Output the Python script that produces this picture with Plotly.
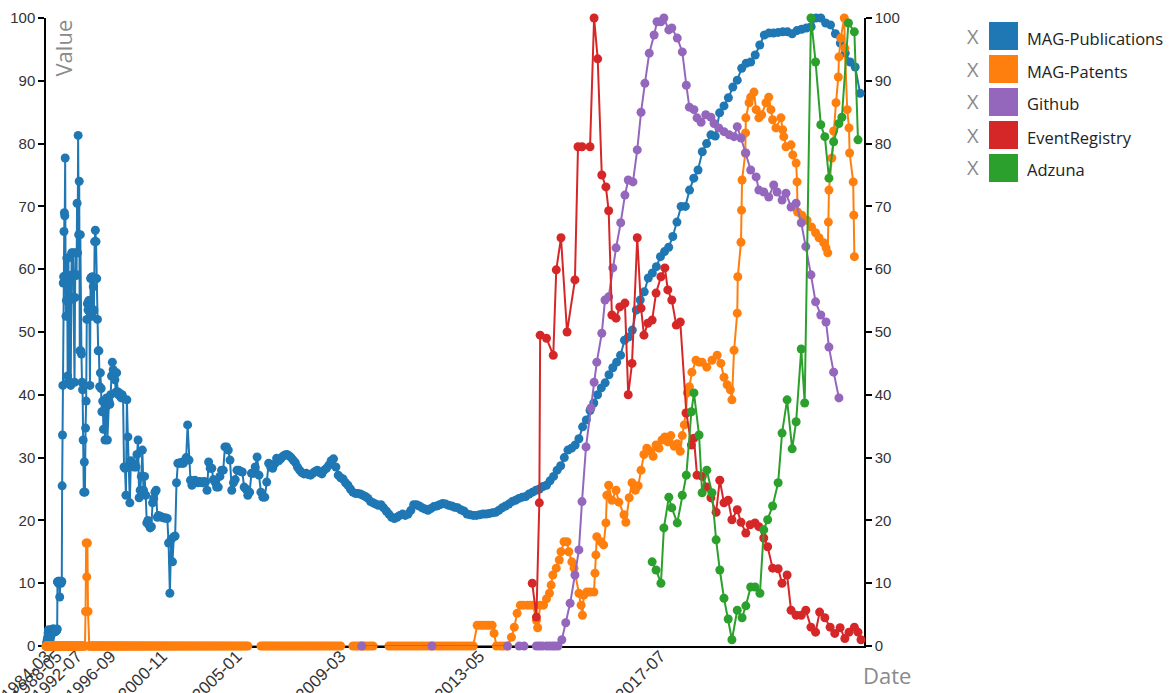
import numpy as np
import pandas as pd
import plotly.graph_objects as go

# ---------------- data ----------------
series_names = ["MAG-Publications", "MAG-Patents", "Github", "EventRegistry", "Adzuna"]
series_colors = ["#1f77b4", "#ff7f0e", "#9467bd", "#d62728", "#2ca02c"]

tick_labels = ["1984-03", "1988-05", "1992-07", "1996-09", "2000-11",
               "2005-01", "2009-03", "2013-05", "2017-07"]

# MAG-Publications: monthly values starting 1984-03
pub_start = "1984-03"
pub_values = [
    0, 0, 0, 0.3, 0.3, 0.5, 0.5, 0.8, 1, 1,                                   # 1984
    1, 1.2, 1.5, 2, 2.2, 2.5, 2.6, 2.4, 2, 1.5, 1.8, 2,                         # 1985
    1.2, 1, 1.5, 2, 1.5, 1.8, 2.2, 2.5, 2.3, 2, 2.5, 2.6,                       # 1986
    2.5, 2.7, 2.2, 2.4, 2.6, 2.7, 2.5, 2.2, 2.4, 2.6, 2.5, 2.3,                 # 1987
    2.5, 2.6, 2.4, 2.5, 2.6, 2.7, 10.2, 10.2, 10.3, 10, 10.2, 10.3,             # 1988
    10.2, 7.8, 10.2, 10.3, 10.2, 10, 10.2, 10.3, 25.5, 33.6, 41.5, 57.8,        # 1989
    58.8, 66, 69, 68.5, 77.7, 59, 52.5, 55, 61.8, 58.8, 43, 42,                 # 1990
    61.8, 42, 55, 58.8, 59, 41.5, 58.5, 62.6, 59, 59.1, 62.6, 55.5,             # 1991
    59.1, 42, 55.5, 62.6, 59, 59.1, 70.5, 62.6, 81.3, 65.5, 74, 47,             # 1992
    65.5, 47, 46.5, 42, 40.8, 32.8, 24.5, 29.3, 24.5, 34.7, 39, 52,             # 1993
    54.5, 53.5, 55, 54, 41.5, 58.5, 58.7, 52.5, 58.8, 57.2, 53.5, 64.4,         # 1994
    66.2, 64.4, 58.5, 52, 47, 47, 41.3, 43.5, 41, 37.3, 39, 34.5,               # 1995
    37.5, 32.8, 38, 39.5, 32.8, 38.5, 39, 38.5, 40, 43, 45.2, 44,               # 1996
    43.6, 42.4, 40.4, 43.5, 40.5, 40, 40.3, 39.8, 39.5, 40, 39.5, 28.5,         # 1997
    28.3, 24, 39.2, 33.3, 28.5, 22.8, 29.5, 29.1, 28.8, 28.5, 29, 28.5,         # 1998
    30.5, 32.8, 23.6, 24.8, 27, 31.2, 24.8, 27, 24, 19.6, 20, 19.2,             # 1999
    18.8, 19, 22.8, 23.5, 24.5, 24.8, 20.5, 20.8, 20.6, 20.6, 20.5, 20.4,       # 2000
    20.4, 20.4, 20.3, 16.4, 8.4, 17, 13.4, 17.4, 17.5, 26, 29.1, 29.1,          # 2001
    29.2, 29.1, 29.1, 29.5, 30, 35.2, 29.6, 26.4, 25.6, 26.2, 26.4, 26.1,       # 2002
    26, 26.2, 26.1, 26, 26.2, 26.1, 24.8, 29.3, 28.3, 28.3, 26.5, 26.1,         # 2003
    25.3, 25.3, 27, 28, 28, 31.7, 31.7, 31.2, 29.6, 24.8, 26, 26.5,             # 2004
    28, 28, 27.8, 27.7, 25.3, 25, 24, 24.5, 27.5, 27.5, 28.5, 30.1,             # 2005
    27.2, 24.5, 23.7, 23.7, 26.1, 29.1, 28.5, 28.3, 29, 29.9, 29.5, 29.8,       # 2006
    30.2, 30.4, 30.5, 30.3, 30, 29.6, 29.2, 28.5, 28, 27.6, 27.4, 27.5,         # 2007
    27.3, 27.2, 27.5, 27.8, 28, 27.6, 27.4, 28, 28.3, 28.8, 29.5, 29.8,         # 2008
    28.5, 27.2, 26.8, 26.6, 26, 25.6, 25, 24.5, 24.3, 24.3, 24.2, 24,           # 2009
    23.8, 23.5, 23, 22.8, 22.6, 22.4, 22.5, 22, 21.5, 21, 20.5, 20.3,           # 2010
    20.5, 20.8, 21, 20.8, 21, 21.6, 22.5, 22.5, 22.3, 22, 21.8, 21.6,           # 2011
    21.9, 22.2, 22.3, 22.5, 22.7, 22.6, 22.4, 22.3, 22.1, 22, 21.7, 21.5,       # 2012
    21, 20.9, 20.8, 20.8, 20.9, 21, 21, 21.1, 21.2, 21.3, 21.6, 22,             # 2013
    22.3, 22.6, 23, 23.2, 23.5, 23.7, 23.8, 24.2, 24.5, 24.8, 25, 25.4,         # 2014
    25.6, 26.3, 27, 28, 28.7, 30, 31.2, 31.5, 32, 33, 34.9, 36,                 # 2015
    37.5, 38.7, 40, 41.1, 41.9, 43.2, 44.3, 45.2, 46.3, 48.7, 49.2, 50.3,       # 2016
    53.5, 55.1, 56.4, 58.6, 59.4, 60.4, 62, 62.8, 63.5, 65.2, 67.5, 70,         # 2017
    70, 72.6, 74.5, 75.8, 78.7, 80, 81.4, 81.2, 84.9, 86, 87.3, 89,             # 2018
    90.1, 92, 92.8, 93, 94.1, 95.7, 97.3, 97.6, 97.6, 97.7, 97.8, 97.8,         # 2019
    97.5, 98, 98.2, 98.4, 98.6, 100, 100, 99.2, 98.9, 97.5, 96, 94.4,           # 2020
    93, 92.2, 88,                                                               # 2021
]

# MAG-Patents: monthly values 1984-03 .. 2013-03 (None = missing month)
pat_start = "1984-03"
pat_monthly = [
    0, 0, 0, 0, 0, 0, 0, 0, 0, 0,                   # 1984
    0, 0, 0, 0, 0, 0, 0, 0, 0, 0, 0, 0,             # 1985
    0, 0, 0, 0, 0, 0, 0, 0, 0, 0, 0, 0,             # 1986
    0, 0, 0, 0, 0, 0, 0, 0, 0, 0, 0, 0,             # 1987
    0, 0, 0, 0, 0, 0, 0, 0, 0, 0, 0, 0,             # 1988
    0, 0, 0, 0, 0, 0, 0, 0, 0, 0, 0, 0,             # 1989
    0, 0, 0, 0, 0, 0, 0, 0, 0, 0, 0, 0,             # 1990
    0, 0, 0, 0, 0, 0, 0, 0, 0, 0, 0, 0,             # 1991
    0, 0, 0, 0, 0, 0, 0, 0, 0, 0, 0, 0,             # 1992
    0, 0, 0, 0, 0, 0, 0, 0, 0, 5.5, 16.4, 11,       # 1993
    16.4, 5.5, 0, 0, 0, 0, 0, 0, 0, 0, 0, 0,        # 1994
    0, 0, 0, 0, 0, 0, 0, 0, 0, 0, 0, 0,             # 1995
    0, 0, 0, 0, 0, 0, 0, 0, 0, 0, 0, 0,             # 1996
    0, 0, 0, 0, 0, 0, 0, 0, 0, 0, 0, 0,             # 1997
    0, 0, 0, 0, 0, 0, 0, 0, 0, 0, 0, 0,             # 1998
    0, 0, 0, 0, 0, 0, 0, 0, 0, 0, 0, 0,             # 1999
    0, 0, 0, 0, 0, 0, 0, 0, 0, 0, 0, 0,             # 2000
    0, 0, 0, 0, 0, 0, 0, 0, 0, 0, 0, 0,             # 2001
    0, 0, 0, 0, 0, 0, 0, 0, 0, 0, 0, 0,             # 2002
    0, 0, 0, 0, 0, 0, 0, 0, 0, 0, 0, 0,             # 2003
    0, 0, 0, 0, 0, 0, 0, 0, 0, 0, 0, 0,             # 2004
    0, 0, 0, 0, 0, 0, 0, None, None, None, None, None,   # 2005
    None, 0, 0, 0, 0, 0, 0, 0, 0, 0, 0, 0,          # 2006
    0, 0, 0, 0, 0, 0, 0, 0, 0, 0, 0, 0,             # 2007
    0, 0, 0, 0, 0, 0, 0, 0, 0, 0, 0, 0,             # 2008
    0, 0, 0, None, None, None, None, 0, 0, 0, 0, 0, # 2009
    0, 0, 0, 0, None, None, None, None, None, 0, 0, 0,   # 2010
    0, 0, 0, 0, 0, 0, 0, 0, 0, 0, 0, 0,             # 2011
    0, 0, 0, 0, 0, 0, 0, 0, 0, 0, 0, 0,             # 2012
    0, 0, 0,                                        # 2013
]
# MAG-Patents from 2013 on (irregular dates, decimal years)
pat_t = [
    2013.27, 2013.35, 2013.43, 2013.505, 2013.58, 2013.66, 2013.71, 2013.77, 2013.87, 2013.95,
    2014.05, 2014.15, 2014.22, 2014.29, 2014.37, 2014.44, 2014.54, 2014.61, 2014.68, 2014.76,
    2014.79, 2014.85, 2014.93,
    2015.0, 2015.07, 2015.11, 2015.15, 2015.23, 2015.3, 2015.34, 2015.41, 2015.48, 2015.52,
    2015.59, 2015.64, 2015.75, 2015.8, 2015.83, 2015.86, 2015.93,
    2016.0, 2016.087, 2016.11, 2016.13, 2016.15, 2016.24, 2016.3, 2016.35, 2016.37, 2016.41,
    2016.48, 2016.57, 2016.63, 2016.74, 2016.78, 2016.85, 2016.91, 2016.98,
    2017.04, 2017.1, 2017.16, 2017.22, 2017.29, 2017.35, 2017.41, 2017.47, 2017.53, 2017.59,
    2017.65, 2017.71, 2017.78, 2017.84, 2017.9, 2017.94, 2017.98,
    2018.01, 2018.04, 2018.08, 2018.13, 2018.21, 2018.27, 2018.33, 2018.42, 2018.52, 2018.62,
    2018.69, 2018.75, 2018.81, 2018.87, 2018.9, 2018.94,
    2019.0, 2019.01, 2019.07, 2019.08, 2019.09, 2019.15, 2019.155, 2019.16, 2019.22, 2019.25,
    2019.31, 2019.35, 2019.4, 2019.45, 2019.53, 2019.58, 2019.62, 2019.65, 2019.71, 2019.8,
    2019.83, 2019.85, 2019.89, 2019.98,
    2020.01, 2020.07, 2020.086, 2020.095, 2020.17, 2020.26, 2020.34, 2020.41, 2020.47, 2020.55,
    2020.59, 2020.62, 2020.63, 2020.64, 2020.69, 2020.72, 2020.76, 2020.8, 2020.81, 2020.84,
    2020.9, 2020.91, 2020.95, 2020.98, 2020.99,
    2021.05, 2021.06, 2021.07,
]
pat_v = [
    3.3, 3.3, 3.3, 3.3, 3.3, 3.3, 2.0, 0, 0, 0,
    0, 1.4, 3, 5.2, 6.5, 6.5, 6.5, 6.5, 6.5, 4.1,
    2.9, 6.5, 6.5,
    7.5, 8.4, 9.7, 11.3, 12.4, 13.7, 15, 16.6, 16.6, 15,
    13.4, 12.4, 8.4, 6.5, 4.9, 8.1, 8.6,
    8.6, 8.6, 11.6, 14.5, 17.4, 16.6, 16.1, 19.6, 24, 25.6,
    23.2, 24.8, 22.9, 20.9, 19.7, 23.6, 26, 24.8,
    25.5, 28, 30.5, 31.5, 31, 30.2, 32, 31.5, 32.8, 33.3,
    32.5, 33.5, 31.8, 32.2, 31, 33.5, 35.2,
    37.1, 40.3, 41.3, 43.6, 45.5, 45.2, 45.2, 44.4, 45.5, 46.3,
    45, 42.8, 41.6, 40.8, 39.2, 47.1,
    53, 58.8, 64.3, 69.4, 74.2, 78.5, 81.7, 84.1, 86.5, 87.4,
    88.2, 85.4, 84.1, 84.6, 86.5, 87.4, 85.4, 83.8, 82.5, 84.1,
    82.2, 81.1, 79.5, 79.8,
    78.2, 76.9, 73.9, 69.1, 68.6, 67.8, 66.7, 65.8, 65, 64.2,
    63.4, 62.6, 67.5, 72.6, 77.7, 82, 86.5, 90.6, 93.8, 96.8,
    100, 95.2, 85.4, 82.5, 78.5,
    73.9, 68.6, 62,
]

# Github (decimal years)
gh_t = [
    2009.88, 2012.03, 2014.05, 2014.34, 2014.46, 2014.76, 2014.83, 2014.9, 2015.0, 2015.07,
    2015.14, 2015.2, 2015.27, 2015.36, 2015.45, 2015.55, 2015.66, 2015.75, 2015.82, 2015.91,
    2016.02, 2016.09, 2016.15, 2016.26, 2016.33, 2016.41, 2016.5, 2016.57, 2016.67, 2016.76,
    2016.83, 2016.93, 2017.02, 2017.1, 2017.18, 2017.27, 2017.37, 2017.43, 2017.51, 2017.57,
    2017.67, 2017.73, 2017.84, 2017.94, 2018.02, 2018.08, 2018.17, 2018.23, 2018.31, 2018.4,
    2018.5, 2018.56, 2018.65, 2018.75, 2018.85, 2018.94, 2019.0, 2019.07, 2019.16, 2019.25,
    2019.35, 2019.4, 2019.49, 2019.58, 2019.67, 2019.73, 2019.82, 2019.89, 2019.98, 2020.07,
    2020.16, 2020.24, 2020.33, 2020.41, 2020.5, 2020.59, 2020.64, 2020.72, 2020.81,
]
gh_v = [
    0, 0, 0, 0, 0, 0, 0, 0, 0, 0,
    0, 0, 0, 1, 3.7, 6.8, 11.3, 15.3, 23, 31.7,
    37.9, 42, 45.2, 49.8, 55.1, 55.6, 60.2, 63.4, 67.4, 71.8,
    74.2, 73.9, 79, 85, 89.6, 94.4, 97.3, 99.4, 99.4, 100,
    98.1, 98.4, 96.8, 94.6, 89.3, 85.8, 85.4, 84.1, 83.4, 84.6,
    84.2, 83.2, 82.5, 81.9, 81.4, 81.1, 82.7, 80.9, 78.5, 75.8,
    74.7, 72.6, 72.3, 71.5, 73.4, 72.3, 71, 72.1, 69.9, 70.5,
    67.4, 63.6, 59.1, 54.8, 52.7, 51.6, 47.6, 43.6, 39.5,
]

# EventRegistry (decimal years)
er_t = [
    2014.66, 2014.76, 2014.83, 2014.85, 2015.0, 2015.16, 2015.23, 2015.34, 2015.48, 2015.66,
    2015.73, 2015.82, 2016.0, 2016.09, 2016.17, 2016.26, 2016.35, 2016.41, 2016.48, 2016.57,
    2016.65, 2016.76, 2016.83, 2016.91, 2017.02, 2017.1, 2017.16, 2017.24, 2017.33, 2017.41,
    2017.51, 2017.59, 2017.65, 2017.73, 2017.82, 2017.9, 2018.02, 2018.12, 2018.17, 2018.23,
    2018.33, 2018.42, 2018.5, 2018.6, 2018.67, 2018.75, 2018.83, 2018.9, 2019.0, 2019.07,
    2019.16, 2019.24, 2019.33, 2019.4, 2019.49, 2019.56, 2019.65, 2019.75, 2019.82, 2019.91,
    2019.98, 2020.07, 2020.16, 2020.24, 2020.33, 2020.41, 2020.48, 2020.57, 2020.66, 2020.74,
    2020.83, 2020.91, 2020.98, 2021.07, 2021.13, 2021.18,
]
er_v = [
    10, 4.6, 22.8, 49.5, 49, 46.3, 59.9, 65, 50, 58.3,
    79.5, 79.5, 79.5, 100, 93.5, 75, 73.1, 69.3, 52.7, 52.2,
    54, 54.6, 40, 45, 65, 53.8, 49.5, 51.4, 51.9, 56.2,
    58.8, 60.2, 56.7, 55.1, 51.1, 51.6, 37.1, 32, 33.1, 27.2,
    27, 25.3, 23.6, 21.3, 26.4, 22.8, 23.2, 20.1, 21.7, 19.7,
    18, 19.3, 19.6, 19, 17.2, 15.8, 12.4, 12.3, 10, 11.3,
    5.7, 4.9, 4.9, 5.7, 3, 2.2, 5.4, 4.5, 3, 2,
    2.9, 1.2, 2.2, 3, 2.2, 1,
]

# Adzuna (decimal years)
adz_t = [
    2017.33, 2017.41, 2017.51, 2017.57, 2017.67, 2017.73, 2017.84, 2017.94, 2018.02, 2018.12,
    2018.17, 2018.27, 2018.33, 2018.42, 2018.52, 2018.6, 2018.67, 2018.75, 2018.83, 2018.9,
    2019.0, 2019.09, 2019.16, 2019.25, 2019.33, 2019.42, 2019.49, 2019.56, 2019.65, 2019.75,
    2019.82, 2019.91, 2020.0, 2020.07, 2020.16, 2020.22, 2020.33, 2020.41, 2020.5, 2020.57,
    2020.64, 2020.72, 2020.81, 2020.86, 2020.97, 2021.07, 2021.13,
]
adz_v = [
    13.4, 12.1, 10, 18.8, 23.7, 22, 19.6, 24, 27.2, 37.3,
    40.3, 33.6, 24.4, 28, 24.4, 16.9, 12.1, 7.6, 4.3, 1,
    5.7, 4.5, 6.4, 9.4, 9.4, 8.4, 18.5, 20.1, 22.3, 26,
    33.9, 39.2, 31.4, 35.7, 47.3, 38.7, 100, 93, 83, 81.1,
    74.5, 80.3, 83.2, 84.2, 99.2, 97.8, 80.6,
]

# ---------------- helpers ----------------
EXPONENT = 3.75  # power-scaled time axis (as in the original chart)


def monthly_years(start, n):
    d = pd.date_range(start + "-01", periods=n, freq="MS")
    return (d.year + (d.month - 1) / 12.0).to_numpy(dtype=float)


def label_year(s):
    return int(s[:4]) + (int(s[5:7]) - 1) / 12.0


def pos(years):
    return (np.asarray(years, dtype=float) - 1970.0) ** EXPONENT


pub_t = monthly_years(pub_start, len(pub_values))
pat_all_t = np.concatenate([monthly_years(pat_start, len(pat_monthly)), np.asarray(pat_t, float)])
pat_all_v = list(pat_monthly) + list(pat_v)

series_t = [pub_t, pat_all_t, np.asarray(gh_t), np.asarray(er_t), np.asarray(adz_t)]
series_v = [pub_values, pat_all_v, gh_v, er_v, adz_v]

first_t = min(float(np.min(t)) for t in series_t)
last_t = max(float(np.max(t)) for t in series_t)

fig = go.Figure()
for i, (name, color, t, v) in enumerate(zip(series_names, series_colors, series_t, series_v)):
    fig.add_trace(go.Scatter(
        x=pos(t), y=v, name=name, mode="lines+markers",
        line=dict(color=color, width=2),
        marker=dict(color=color, size=9),
        connectgaps=True, cliponaxis=False, showlegend=False,
        yaxis="y2" if i == len(series_names) - 1 else "y",
    ))

tick_font = dict(family="Liberation Sans, Arial, sans-serif", size=15, color="#333333")
yaxis_common = dict(
    range=[0, 100], tickvals=list(range(0, 101, 10)), showgrid=False, zeroline=False,
    showline=True, linecolor="black", linewidth=1.5, ticks="outside", ticklen=6,
    tickcolor="black", tickwidth=1.5, tickfont=tick_font, layer="below traces",
    automargin=False, fixedrange=True,
)

fig.update_layout(
    width=1172, height=693,
    margin=dict(l=46, r=308, t=18, b=47, pad=0),
    paper_bgcolor="white", plot_bgcolor="white",
    showlegend=False,
    xaxis=dict(
        range=[float(pos(first_t - 0.02)), float(pos(last_t + 0.05))],
        tickvals=[float(pos(label_year(s))) for s in tick_labels],
        ticktext=tick_labels, tickangle=-45, showgrid=False, zeroline=False,
        showline=True, linecolor="black", linewidth=1.5, ticks="",
        ticklabelstandoff=-8, ticklabeloverflow="allow",
        tickfont=dict(family="Liberation Sans, Arial, sans-serif", size=17, color="#333333"),
        layer="below traces", automargin=False,
    ),
    yaxis=yaxis_common,
    yaxis2=dict(overlaying="y", side="right", **yaxis_common),
)

# axis titles
W_PLOT, H_PLOT = 818.0, 628.0
gray = "#8a8a8a"
fig.add_annotation(text="Value", xref="paper", yref="paper", x=(62 - 46) / W_PLOT, y=1.0,
                   xanchor="center", yanchor="top", textangle=-90, showarrow=False,
                   font=dict(family="Open Sans, sans-serif", size=22, color=gray))
fig.add_annotation(text="Date", xref="paper", yref="paper", x=(861 - 46) / W_PLOT,
                   y=(646 - 675) / H_PLOT, xanchor="left", yanchor="middle", showarrow=False,
                   font=dict(family="Open Sans, sans-serif", size=22, color=gray))

# custom legend (X, coloured square, label)
for i, (name, color) in enumerate(zip(series_names, series_colors)):
    cy = 36 + 33 * i
    fig.add_annotation(text="X", xref="paper", yref="paper", x=(973 - 46) / W_PLOT,
                       y=(646 - cy) / H_PLOT, xanchor="center", yanchor="middle",
                       showarrow=False, font=dict(family="Open Sans, sans-serif", size=20, color=gray))
    fig.add_shape(type="rect", xref="paper", yref="paper",
                  x0=(989 - 46) / W_PLOT, x1=(1018 - 46) / W_PLOT,
                  y0=(646 - (cy + 14)) / H_PLOT, y1=(646 - (cy - 14)) / H_PLOT,
                  fillcolor=color, line=dict(width=0))
    fig.add_annotation(text=name, xref="paper", yref="paper", x=(1025 - 46) / W_PLOT,
                       y=(646 - cy - 2) / H_PLOT, xanchor="left", yanchor="middle",
                       showarrow=False, font=dict(family="Open Sans, sans-serif", size=16.5, color="#222222"))

fig.write_html(
    "out.html",
    config={"displayModeBar": False},
    post_script="document.body.style.margin='0';document.body.style.overflow='hidden';",
)
